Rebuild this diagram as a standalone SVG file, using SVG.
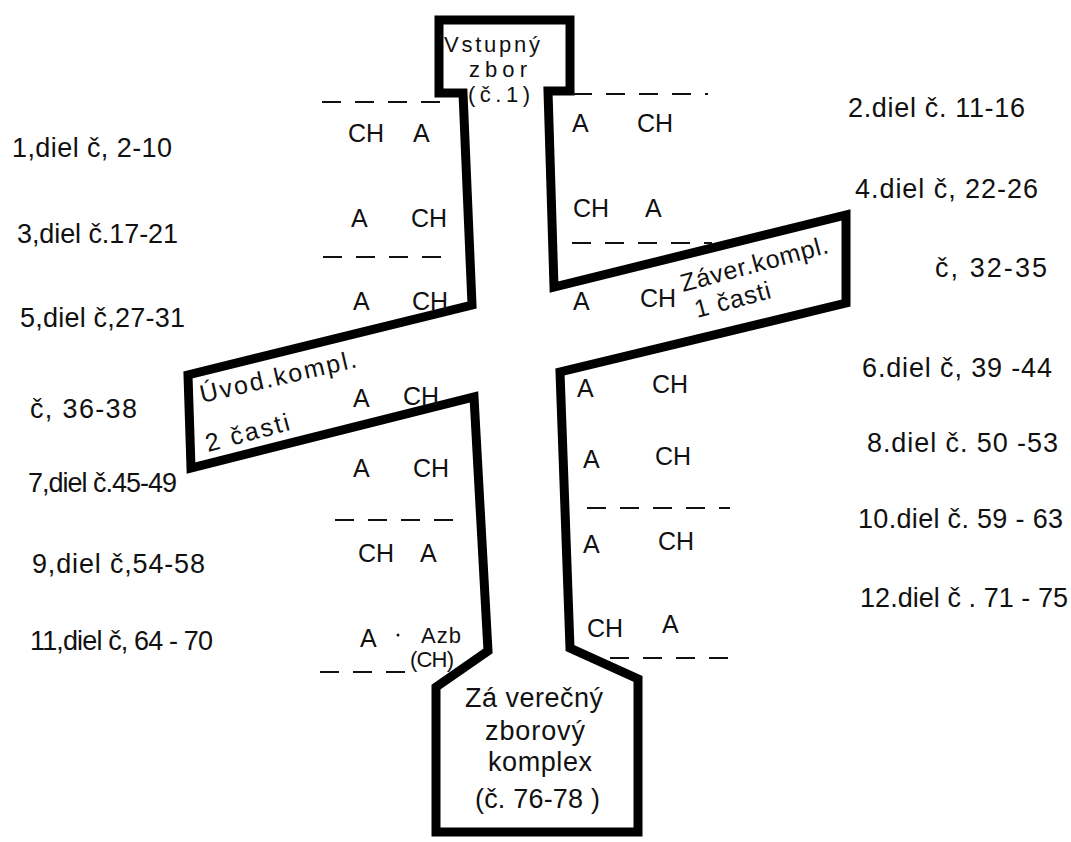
<svg xmlns="http://www.w3.org/2000/svg" width="1071" height="842" viewBox="0 0 1071 842">
<style>
text{font-family:"Liberation Sans","DejaVu Sans",sans-serif;fill:#111}
.lab{font-size:27px}
.ac{font-size:25px}
.box{font-size:27px}
.tbox{font-size:22px}
.dash{stroke:#111;stroke-width:2;stroke-dasharray:19 14;fill:none}
.outline{fill:none;stroke:#000;stroke-width:9;stroke-linejoin:miter}
</style>
<rect width="1071" height="842" fill="#fff"/>
<g id="cross">
<path class="outline" d="M439,20 L570,20 L570,91 L548,91 L554,287 L846,215 L846,303 L560,372 L570,648 L638,679 L638,832 L436,832 L436,687 L488,651 L474,397 L191,468 L188,375 L472,305 L463,93 L439,93 Z"/>
</g>
<g id="dividers">
<line class="dash" x1="322" y1="102" x2="440" y2="102"/>
<line class="dash" x1="323" y1="257" x2="452" y2="257"/>
<line class="dash" x1="335" y1="520" x2="457" y2="520"/>
<line class="dash" x1="320" y1="672" x2="412" y2="672"/>
<line class="dash" x1="573" y1="94" x2="708" y2="94"/>
<line class="dash" x1="572" y1="243" x2="712" y2="243"/>
<line class="dash" x1="587" y1="508" x2="730" y2="508"/>
<line class="dash" x1="610" y1="658" x2="738" y2="658"/>
</g>
<g id="top-box">
<text class="tbox" x="444" y="52" textLength="96">Vstupný</text>
<text class="tbox" x="469" y="77" textLength="58">zbor</text>
<text class="tbox" x="468" y="102" textLength="62">(č.1)</text>
</g>
<g id="bottom-box">
<text class="box" x="465" y="707" textLength="138">Zá verečný</text>
<text class="box" x="485" y="740" textLength="100">zborový</text>
<text class="box" x="488" y="771" textLength="104">komplex</text>
<text class="box" x="475" y="808" textLength="125">(č. 76-78 )</text>
</g>
<g id="left-arm">
<text class="ac" transform="translate(202,403) rotate(-13)" textLength="160">Úvod.kompl.</text>
<text class="ac" transform="translate(208,452) rotate(-15)" textLength="86">2 časti</text>
</g>
<g id="right-arm">
<text class="ac" transform="translate(683,292) rotate(-15)" textLength="152">Záver.kompl.</text>
<text class="ac" transform="translate(697,318) rotate(-15)" textLength="78">1 časti</text>
</g>
<g id="parts-left">
<text class="ac" x="348" y="142">CH</text><text class="ac" x="413" y="142">A</text>
<text class="ac" x="351" y="227">A</text><text class="ac" x="411" y="227">CH</text>
<text class="ac" x="353" y="310">A</text><text class="ac" x="412" y="310">CH</text>
<text class="ac" x="353" y="407">A</text><text class="ac" x="403" y="405">CH</text>
<text class="ac" x="353" y="477">A</text><text class="ac" x="413" y="477">CH</text>
<text class="ac" x="358" y="562">CH</text><text class="ac" x="420" y="562">A</text>
<text class="ac" x="360" y="647">A</text>
<circle cx="398" cy="635" r="1.5" fill="#111"/>
<text x="421" y="643" style="font-size:22px" textLength="40">Azb</text>
<text x="410" y="667" style="font-size:22px" textLength="44">(CH)</text>
</g>
<g id="parts-right">
<text class="ac" x="572" y="132">A</text><text class="ac" x="637" y="132">CH</text>
<text class="ac" x="573" y="217">CH</text><text class="ac" x="645" y="217">A</text>
<text class="ac" x="573" y="310">A</text><text class="ac" x="640" y="307">CH</text>
<text class="ac" x="577" y="397">A</text><text class="ac" x="652" y="393">CH</text>
<text class="ac" x="583" y="468">A</text><text class="ac" x="655" y="465">CH</text>
<text class="ac" x="583" y="553">A</text><text class="ac" x="658" y="550">CH</text>
<text class="ac" x="587" y="637">CH</text><text class="ac" x="662" y="633">A</text>
</g>
<g id="labels-left">
<text class="lab" x="12" y="157" textLength="160">1,diel č, 2-10</text>
<text class="lab" x="17" y="243" textLength="161">3,diel č.17-21</text>
<text class="lab" x="20" y="327" textLength="165">5,diel č,27-31</text>
<text class="lab" x="30" y="418" textLength="107">č, 36-38</text>
<text class="lab" x="28" y="492" textLength="149">7,diel č.45-49</text>
<text class="lab" x="32" y="573" textLength="173">9,diel č,54-58</text>
<text class="lab" x="30" y="650" textLength="183">11,diel č, 64 - 70</text>
</g>
<g id="labels-right">
<text class="lab" x="848" y="117" textLength="177">2.diel č. 11-16</text>
<text class="lab" x="855" y="198" textLength="183">4.diel č, 22-26</text>
<text class="lab" x="935" y="277" textLength="112">č, 32-35</text>
<text class="lab" x="862" y="377" textLength="190">6.diel č, 39 -44</text>
<text class="lab" x="867" y="452" textLength="191">8.diel č. 50 -53</text>
<text class="lab" x="858" y="528" textLength="205">10.diel č. 59 - 63</text>
<text class="lab" x="860" y="607" textLength="208">12.diel č . 71 - 75</text>
</g>
</svg>
